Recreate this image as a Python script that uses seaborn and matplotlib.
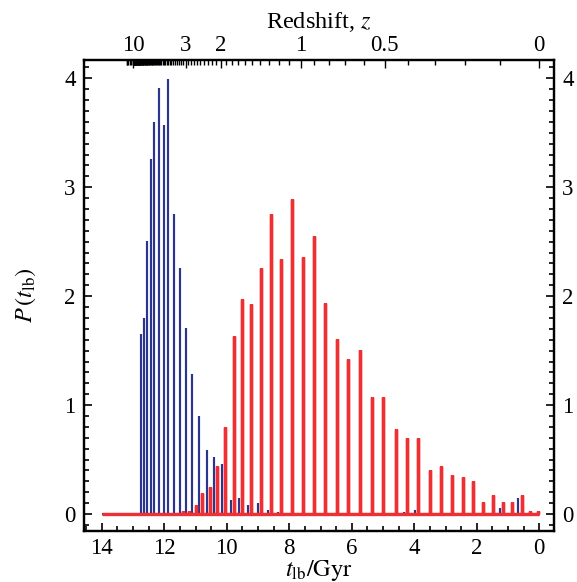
import numpy as np
import pandas as pd
import matplotlib
matplotlib.use("Agg")
import matplotlib.pyplot as plt
import seaborn as sns
from matplotlib.ticker import MultipleLocator, FixedLocator, NullFormatter

# ---------------- data ----------------
blue_t = [12.76, 12.65, 12.54, 12.42, 12.32, 12.18, 12.01, 11.87, 11.70, 11.50,
          11.31, 11.11, 10.89, 10.65, 10.41, 10.15, 9.88, 9.60, 9.32, 9.01,
          8.68, 8.35, 4.33, 3.98, 2.89, 2.54, 2.22, 1.88, 1.26, 0.96,
          0.67, 0.38, 0.13]
blue_p = [1.65, 1.80, 2.51, 3.26, 3.60, 3.91, 3.57, 3.99, 2.75, 2.26,
          1.71, 1.29, 0.90, 0.585, 0.52, 0.46, 0.125, 0.144, 0.083, 0.10,
          0.04, 0.018, 0.02, 0.04, 0.012, 0.012, 0.012, 0.012, 0.058, 0.012,
          0.144, 0.012, 0.012]

red_t = [11.40, 11.20, 11.00, 10.78, 10.55, 10.30, 10.06, 9.78, 9.50, 9.22,
         8.92, 8.58, 8.26, 7.91, 7.57, 7.21, 6.85, 6.48, 6.11, 5.75,
         5.37, 5.00, 4.60, 4.24, 3.89, 3.50, 3.15, 2.79, 2.45, 2.11,
         1.79, 1.47, 1.16, 0.86, 0.57, 0.30, 0.04]
red_p = [0.025, 0.025, 0.085, 0.19, 0.25, 0.44, 0.80, 1.63, 1.97, 1.93,
         2.26, 2.75, 2.34, 2.89, 2.36, 2.55, 1.94, 1.61, 1.42, 1.51,
         1.07, 1.07, 0.78, 0.70, 0.70, 0.40, 0.44, 0.36, 0.34, 0.30,
         0.107, 0.174, 0.107, 0.107, 0.174, 0.028, 0.025]

z_major = [10, 3, 2, 1, 0.5, 0]
z_major_labels = ["10", "3", "2", "1", "0.5", "0"]

BLUE = "#2B3590"
RED = "#EE3033"


def spike_table(t, p, start=14.0, end=0.0):
    xs, ys = [start], [0.0]
    for ti, pi in zip(t, p):
        xs += [ti, ti, ti]
        ys += [0.0, pi, 0.0]
    xs.append(end)
    ys.append(0.0)
    return pd.DataFrame({"t": xs, "P": ys})


def lookback(z, H0=72.0, Om=0.27):
    if z <= 0:
        return 0.0
    zz = np.linspace(0.0, z, 4000)
    f = 1.0 / ((1 + zz) * np.sqrt(Om * (1 + zz) ** 3 + 1 - Om))
    return 977.8 / H0 * np.trapezoid(f, zz)


sns.set_theme(style="ticks")
plt.rcParams["font.family"] = ["Liberation Serif", "DejaVu Serif"]
plt.rcParams["mathtext.fontset"] = "stix"
plt.rcParams["text.color"] = "black"
plt.rcParams["axes.labelcolor"] = "black"
plt.rcParams["xtick.color"] = "black"
plt.rcParams["ytick.color"] = "black"
plt.rcParams["axes.edgecolor"] = "black"

fig = plt.figure(figsize=(5.77, 5.82), dpi=100)
ax = fig.add_axes([84 / 577, 1 - 530.7 / 582, (554 - 84) / 577, (530.7 - 60) / 582])

sns.lineplot(data=spike_table(blue_t, blue_p), x="t", y="P", sort=False,
             estimator=None, color=BLUE, lw=1.5, ax=ax,
             solid_joinstyle="bevel", solid_capstyle="butt")
sns.lineplot(data=spike_table(red_t, red_p), x="t", y="P", sort=False,
             estimator=None, color=RED, lw=2.4, ax=ax,
             solid_joinstyle="bevel", solid_capstyle="butt")

ax.set_xlim(14.57, -0.47)
ax.set_ylim(-0.153, 4.168)
ax.xaxis.set_major_locator(MultipleLocator(2))
ax.xaxis.set_minor_locator(MultipleLocator(0.5))
ax.yaxis.set_major_locator(MultipleLocator(1))
ax.yaxis.set_minor_locator(MultipleLocator(0.1))
ax.tick_params(which="both", direction="in", top=False, right=True,
               labelright=True, width=1.2, labelsize=16.5)
ax.tick_params(which="major", length=6)
ax.tick_params(which="minor", length=3.5)
ax.tick_params(axis="x", pad=5)
ax.tick_params(axis="y", pad=6)
for s in ax.spines.values():
    s.set_linewidth(1.6)

ax.set_xlabel(r"$t_{\rm lb}/{\rm Gyr}$", fontsize=17.5)
ax.xaxis.set_label_coords(0.5, -0.057)
ax.set_ylabel(r"$P\,(t_{\rm lb})$", fontsize=17.5, labelpad=19)

# top redshift axis
ax2 = ax.twiny()
ax2.set_xlim(ax.get_xlim())
major_pos = [lookback(z) for z in z_major]
minor_z = [round(v, 1) for v in np.arange(0.1, 10.0, 0.1)] + list(range(11, 16))
minor_z = [z for z in minor_z if z not in z_major]
ax2.xaxis.set_major_locator(FixedLocator(major_pos))
ax2.set_xticklabels(z_major_labels)
ax2.xaxis.set_minor_locator(FixedLocator([lookback(z) for z in minor_z]))
ax2.xaxis.set_minor_formatter(NullFormatter())
ax2.tick_params(which="both", direction="in", width=1.0, labelsize=16.5, pad=3)
ax2.tick_params(which="major", length=6)
ax2.tick_params(which="minor", length=3.5)
ax2.set_xlabel(r"Redshift, $z$", fontsize=17.5, labelpad=5)
for s in ax2.spines.values():
    s.set_linewidth(1.6)

fig.savefig("out.png", dpi=100)
